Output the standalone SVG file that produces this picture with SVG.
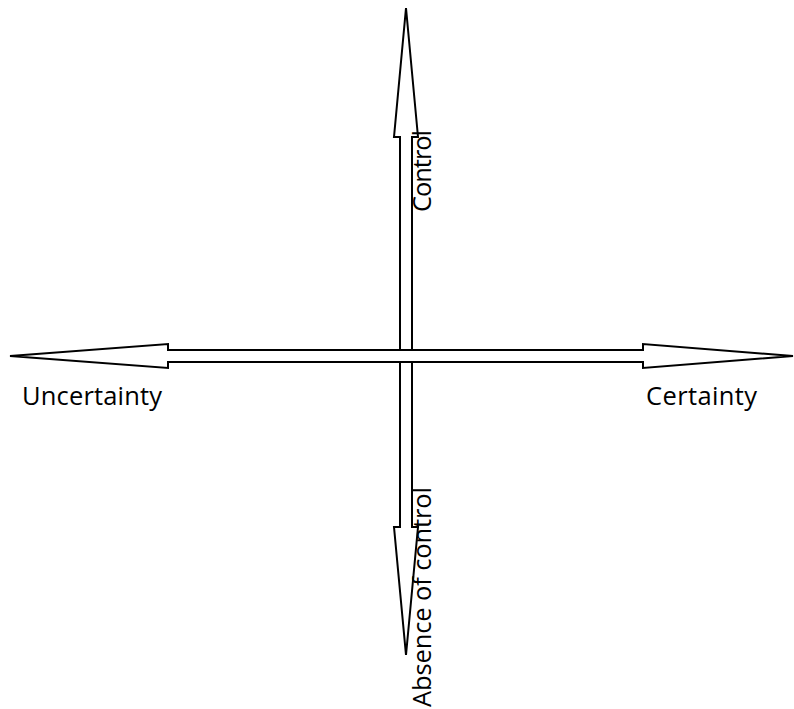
<svg xmlns="http://www.w3.org/2000/svg" width="794" height="709" viewBox="0 0 794 709">
  <style>
    .arrow { fill: #ffffff; stroke: #000000; stroke-width: 2; stroke-linejoin: miter; }
    .label { font-family: "Open Sans", "Liberation Sans", sans-serif; font-size: 25.5px; fill: #000000; }
  </style>
  <rect x="0" y="0" width="794" height="709" fill="#ffffff"/>
  <g id="connectors">
    <polygon id="vertical-axis" class="arrow" points="406,8 418,137 412,137 412,527 418,527 406,655 394,527 400,527 400,137 394,137"/>
    <polygon id="horizontal-axis" class="arrow" points="10,356 168,344 168,350 643,350 643,344 793,356 643,368 643,362 168,362 168,368"/>
  </g>
  <g id="node-control">
    <text class="label" transform="translate(431,212) rotate(-90)" x="0" y="0" textLength="82" lengthAdjust="spacing">Control</text>
  </g>
  <g id="node-absence">
    <text class="label" transform="translate(431,707) rotate(-90)" x="0" y="0" textLength="220" lengthAdjust="spacing">Absence of control</text>
  </g>
  <g id="node-uncertainty">
    <text class="label" x="22" y="405" textLength="140" lengthAdjust="spacing">Uncertainty</text>
  </g>
  <g id="node-certainty">
    <text class="label" x="646" y="405" textLength="111" lengthAdjust="spacing">Certainty</text>
  </g>
</svg>
